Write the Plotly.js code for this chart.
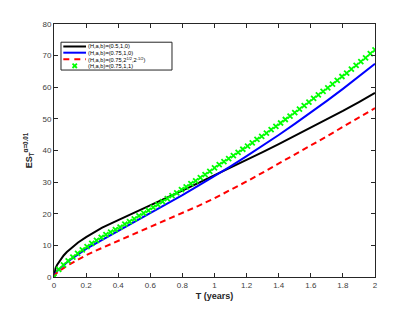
<!DOCTYPE html>
<html>
<head>
<meta charset="utf-8">
<script src="https://cdn.plot.ly/plotly-3.0.1.min.js"></script>
<style>html,body{margin:0;padding:0;background:#fff;}#chart{width:415px;height:312px;}</style>
</head>
<body>
<div id="chart"></div>
<script>
// Time grid for the lines (years)
const T = [0,0.005,0.01,0.02,0.04,0.06,0.08,0.1,0.15,0.2,0.25,0.3,0.4,0.5,0.6,0.7,0.8,0.9,1.0,1.1,1.2,1.3,1.4,1.5,1.6,1.7,1.8,1.9,2.0];
// (H,a,b)=(0.5,1,0)
const esBlack = [0,2.0,2.8,3.9,5.5,6.8,7.9,8.8,10.9,12.6,14.1,15.6,18.0,20.4,22.7,25.0,27.3,29.7,32.1,34.5,37.0,39.5,42.0,44.6,47.2,49.8,52.5,55.3,58.2];
// (H,a,b)=(0.75,1,0)
const esBlue = [0,0.8,1.2,1.9,2.9,3.8,4.6,5.4,7.2,8.9,10.3,11.7,14.6,17.3,20.1,23.0,25.9,28.9,31.9,35.0,38.2,41.5,44.9,48.4,52.0,55.7,59.5,63.4,67.4];
// (H,a,b)=(0.75,2^{1/2},2^{-1/2})
const esRed = [0,0.6,0.9,1.4,2.2,2.9,3.5,4.1,5.6,6.9,8.1,9.2,11.4,13.5,15.7,17.9,20.2,22.5,24.9,27.5,30.2,33.0,35.8,38.7,41.6,44.5,47.4,50.4,53.4];
// (H,a,b)=(0.75,1,1): marker points
const Tm = [0,0.0294,0.0588,0.0882,0.1176,0.1471,0.1765,0.2059,0.2353,0.2647,0.2941,0.3235,0.3529,0.3824,0.4118,0.4412,0.4706,0.5,0.5294,0.5588,0.5882,0.6176,0.6471,0.6765,0.7059,0.7353,0.7647,0.7941,0.8235,0.8529,0.8824,0.9118,0.9412,0.9706,1.0,1.0294,1.0588,1.0882,1.1176,1.1471,1.1765,1.2059,1.2353,1.2647,1.2941,1.3235,1.3529,1.3824,1.4118,1.4412,1.4706,1.5,1.5294,1.5588,1.5882,1.6176,1.6471,1.6765,1.7059,1.7353,1.7647,1.7941,1.8235,1.8529,1.8824,1.9118,1.9412,1.9706,2.0];
const esGreen = [0,2.4,3.8,5.1,6.3,7.5,8.6,9.6,10.6,11.6,12.5,13.4,14.2,15.0,15.8,16.7,17.5,18.4,19.3,20.2,21.1,22.0,22.9,23.8,24.8,25.7,26.6,27.6,28.5,29.5,30.4,31.4,32.4,33.4,34.5,35.5,36.5,37.4,38.4,39.4,40.4,41.4,42.4,43.5,44.5,45.5,46.6,47.6,48.7,49.8,50.9,52.0,53.1,54.2,55.3,56.5,57.6,58.7,59.8,61.0,62.2,63.4,64.5,65.7,66.9,68.1,69.3,70.6,71.8];

const names = ['(H,a,b)=(0.5,1,0)','(H,a,b)=(0.75,1,0)','(H,a,b)=(0.75,2<sup>1/2</sup>,2<sup>-1/2</sup>)','(H,a,b)=(0.75,1,1)'];
const colors = ['#000000','#0000ff','#ff0000','#00ff00'];
const FONT = 'Liberation Sans, Arial, sans-serif';

const traces = [
  {x:T, y:esBlack, mode:'lines', name:names[0], line:{color:colors[0], width:2}},
  {x:T, y:esBlue, mode:'lines', name:names[1], line:{color:colors[1], width:2}},
  {x:T, y:esRed, mode:'lines', name:names[2], line:{color:colors[2], width:2, dash:'6px,4px'}},
  {x:Tm, y:esGreen, mode:'markers', name:names[3], marker:{symbol:'x-thin-open', color:colors[3], size:5, line:{color:colors[3], width:1.8}}}
];

// Compact MATLAB-style legend (decoration, in paper coordinates)
const lgX0 = 0.0218, lgX1 = 0.3676, lgY0 = 0.818, lgY1 = 0.928;
const rowY = [0.9111, 0.8866, 0.8605, 0.8348];
const symX0 = 0.029, symX1 = 0.0997, symXc = 0.0645, txtX = 0.104;
const shapes = [
  {type:'rect', xref:'paper', yref:'paper', x0:lgX0, x1:lgX1, y0:lgY0, y1:lgY1, line:{color:'#262626', width:1}, fillcolor:'#ffffff', layer:'above'}
];
const annotations = [];
for (let i = 0; i < 4; i++) {
  if (i < 3) {
    shapes.push({type:'line', xref:'paper', yref:'paper', x0:symX0, x1:symX1, y0:rowY[i], y1:rowY[i], layer:'above',
      line:{color:colors[i], width:2, dash: i === 2 ? '6px,5px' : 'solid'}});
  } else {
    const dx = 2.2/321, dy = 2.2/253;
    shapes.push({type:'line', xref:'paper', yref:'paper', x0:symXc-dx, x1:symXc+dx, y0:rowY[i]-dy, y1:rowY[i]+dy, layer:'above', line:{color:colors[i], width:1.8}});
    shapes.push({type:'line', xref:'paper', yref:'paper', x0:symXc-dx, x1:symXc+dx, y0:rowY[i]+dy, y1:rowY[i]-dy, layer:'above', line:{color:colors[i], width:1.8}});
  }
  annotations.push({xref:'paper', yref:'paper', x:txtX, y:rowY[i], xanchor:'left', yanchor:'middle', showarrow:false,
    text:names[i], borderpad:0, font:{family:FONT, size:5.7, color:'#000000'}});
}

const axisCommon = {
  showline:true, linecolor:'#262626', linewidth:1, mirror:'ticks',
  ticks:'inside', ticklen:4, tickcolor:'#262626', tickwidth:1,
  showgrid:false, zeroline:false,
  tickfont:{family:FONT, size:8, color:'#404040'}
};

const layout = {
  width:415, height:312,
  margin:{l:54, r:40, t:24, b:35},
  paper_bgcolor:'#ffffff', plot_bgcolor:'#ffffff',
  showlegend:false,
  shapes:shapes, annotations:annotations,
  xaxis:Object.assign({}, axisCommon, {
    range:[0,2], tickvals:[0,0.2,0.4,0.6,0.8,1,1.2,1.4,1.6,1.8,2],
    ticktext:['0','0.2','0.4','0.6','0.8','1','1.2','1.4','1.6','1.8','2'],
    title:{text:'<b>T (years)</b>', font:{family:FONT, size:9, color:'#262626'}, standoff:4}
  }),
  yaxis:Object.assign({}, axisCommon, {
    range:[0,80], tickvals:[0,10,20,30,40,50,60,70,80],
    title:{text:'<b>ES<sub>T</sub><sup>α=0.01</sup></b>', font:{family:FONT, size:9, color:'#262626'}, standoff:8}
  })
};

Plotly.newPlot('chart', traces, layout, {displayModeBar:false, staticPlot:true});
</script>
</body>
</html>
